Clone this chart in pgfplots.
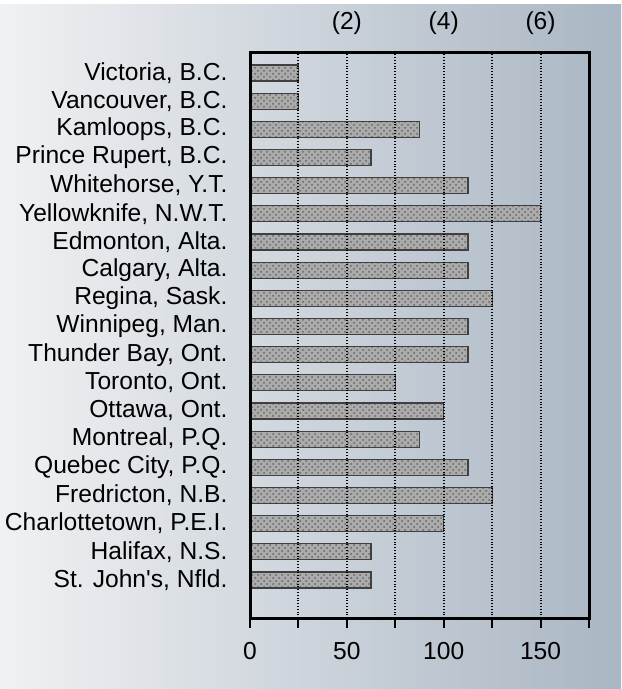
\documentclass[border=0pt]{standalone}
\usepackage{pgfplots}
\pgfplotsset{compat=1.18}
\usepackage{fontspec}
\setmainfont{Liberation Sans}
\usetikzlibrary{patterns}
\definecolor{bgL}{HTML}{F0F1F3}
\definecolor{bgM}{HTML}{D2D9DF}
\definecolor{bgR}{HTML}{A9B6C3}
\begin{document}
\fontsize{12.3}{14.3}\selectfont
\begin{tikzpicture}
\useasboundingbox (0,0) rectangle (310.5pt,344.5pt);
\shade[left color=bgL, middle color=bgM, right color=bgR] (0,0) rectangle (310.5pt,344.5pt);
\fill[white] (0,342.5pt) rectangle (310.5pt,344.5pt);
\begin{axis}[
  at={(125pt,35.5pt)}, anchor=south west,
  scale only axis, width=169.5pt, height=282.5pt,
  xmin=0, xmax=175, ymin=-1.35, ymax=18.71,
  xbar, bar width=8pt,
  axis on top,
  axis line style={line width=1.5pt},
  xtick={0,25,50,75,100,125,150,175},
  xticklabels={0,,50,,100,,150,},
  xtick pos=bottom, tick align=outside,
  x tick style={line width=1pt, black},
  major tick length=5pt,
  xmajorgrids, grid style={black, densely dotted, line width=1pt},
  ytick={0,...,18},
  yticklabels={St. John\textquotesingle s{,} Nfld.,Halifax{,} N.S.,Charlottetown{,} P.E.I.,Fredricton{,} N.B.,Quebec City{,} P.Q.,Montreal{,} P.Q.,Ottawa{,} Ont.,Toronto{,} Ont.,Thunder Bay{,} Ont.,Winnipeg{,} Man.,Regina{,} Sask.,Calgary{,} Alta.,Edmonton{,} Alta.,Yellowknife{,} N.W.T.,Whitehorse{,} Y.T.,Prince Rupert{,} B.C.,Kamloops{,} B.C.,Vancouver{,} B.C.,Victoria{,} B.C.},
  y tick style={draw=none},
  yticklabel style={xshift=-2pt},
  xticklabel style={yshift=-3pt},
  /pgf/number format/assume math mode=true,
]
\addplot[draw=black!75, line width=0.6pt, fill=black!33,
  postaction={pattern=crosshatch dots, pattern color=black!60}, bar shift=0pt]
coordinates {
(62.5,0) (62.5,1) (100,2) (125,3) (112.5,4) (87.5,5) (100,6) (75,7)
(112.5,8) (112.5,9) (125,10) (112.5,11) (112.5,12) (150,13) (112.5,14)
(62.5,15) (87.5,16) (25,17) (25,18)
};
\end{axis}
\begin{axis}[
  at={(125pt,35.5pt)}, anchor=south west,
  scale only axis, width=169.5pt, height=282.5pt,
  xmin=0, xmax=175, ymin=-1.35, ymax=18.71,
  axis x line*=top, axis line style={draw=none},
  hide y axis,
  xtick={50,100,150}, xticklabels={(2),(4),(6)},
  major tick length=0pt,
  xticklabel style={yshift=5pt},
]
\addplot[draw=none] coordinates {(0,0)};
\end{axis}
\end{tikzpicture}
\end{document}
